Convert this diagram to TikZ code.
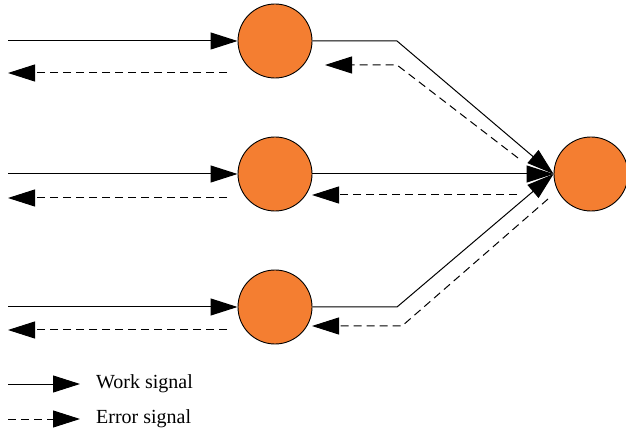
\documentclass[tikz,border=0pt]{standalone}
\usepackage{fontspec}
\setmainfont{Liberation Serif}
\usetikzlibrary{arrows.meta}
\definecolor{nodeorange}{HTML}{F47E31}
\tikzset{
  neuron/.style={circle,draw=black,line width=0.9pt,fill=nodeorange,minimum size=74pt,inner sep=0pt},
  work/.style={line width=1pt,-{Triangle[length=27pt,width=17pt]}},
  err/.style={line width=1pt,dash pattern=on 8pt off 5pt,-{Triangle[length=27pt,width=17pt]}},
  lbl/.style={anchor=west,inner sep=0pt,font=\fontsize{20}{20}\selectfont}
}
\begin{document}
\begin{tikzpicture}[x=1pt,y=-1pt]
\useasboundingbox (0,0) rectangle (626,435);
% nodes
\node[neuron] (h1) at (275,41) {};
\node[neuron] (h2) at (275,174) {};
\node[neuron] (h3) at (275,307) {};
\node[neuron] (o) at (591,174) {};
% input coordinates
\coordinate (i1) at (8,41);
\coordinate (i2) at (8,174);
\coordinate (i3) at (8,307);
\coordinate (e1s) at (227,73);
\coordinate (e1t) at (8,73);
\coordinate (e2s) at (227,198);
\coordinate (e2t) at (8,198);
\coordinate (e3s) at (227,330);
\coordinate (e3t) at (8,330);
% inputs
\draw[work] (i1) -- (h1);
\draw[work] (i2) -- (h2);
\draw[work] (i3) -- (h3);
\draw[err] (e1s) -- (e1t);
\draw[err] (e2s) -- (e2t);
\draw[err] (e3s) -- (e3t);
% outputs
\coordinate (b1) at (397,41);
\coordinate (b3) at (397,307);
\draw[work] (h1.east) -- (b1) -- (o.west);
\draw[work] (h2.east) -- (o.west);
\draw[work] (h3.east) -- (b3) -- (o.west);
% error back
\coordinate (r1s) at (518,158);
\coordinate (r1b) at (397,65);
\coordinate (r1t) at (325,65);
\draw[err] (r1s) -- (r1b) -- (r1t);
\coordinate (r2s) at (517,195);
\coordinate (r2t) at (312,195);
\draw[err] (r2s) -- (r2t);
\coordinate (r3s) at (548,199);
\coordinate (r3b) at (402,326);
\coordinate (r3t) at (312,326);
\draw[err] (r3s) -- (r3b) -- (r3t);
% legend
\coordinate (l1s) at (8,384);
\coordinate (l1t) at (80,384);
\coordinate (l2s) at (8,419);
\coordinate (l2t) at (80,419);
\draw[work] (l1s) -- (l1t);
\draw[err] (l2s) -- (l2t);
\node[lbl] (t1) at (96,384) {Work signal};
\node[lbl] (t2) at (96,419) {Error signal};
\end{tikzpicture}
\end{document}
